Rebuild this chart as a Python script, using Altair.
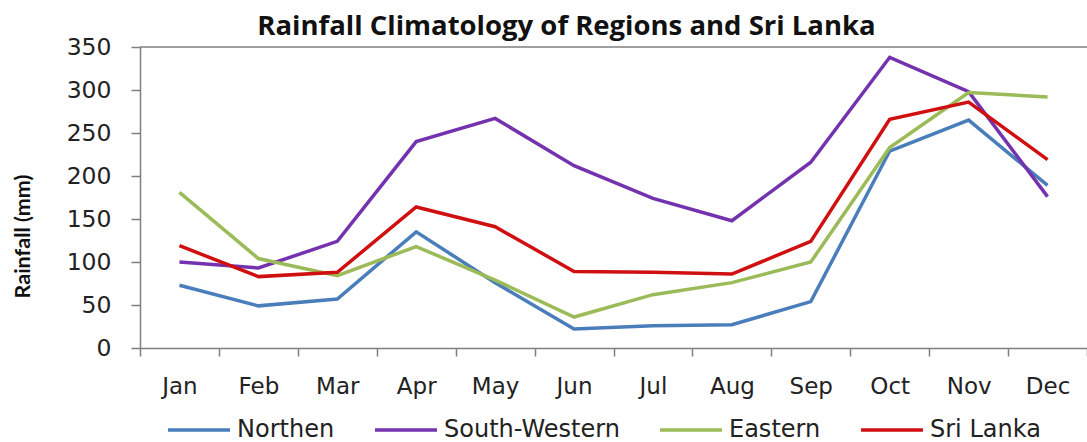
import altair as alt
import pandas as pd

months = ["Jan", "Feb", "Mar", "Apr", "May", "Jun",
          "Jul", "Aug", "Sep", "Oct", "Nov", "Dec"]
regions = ["Northen", "South-Western", "Eastern", "Sri Lanka"]
colors = ["#4A7EBB", "#7432AE", "#9BBB59", "#D01010"]

northen = [73, 49, 57, 135, 76, 22, 26, 27, 54, 229, 265, 189]
south_western = [100, 93, 124, 240, 267, 212, 174, 148, 216, 338, 298, 176]
eastern = [181, 104, 84, 118, 79, 36, 62, 76, 100, 233, 297, 292]
sri_lanka = [119, 83, 88, 164, 141, 89, 88, 86, 124, 266, 286, 219]

series = dict(zip(regions, [northen, south_western, eastern, sri_lanka]))
rows = []
for name, values in series.items():
    for m, v in zip(months, values):
        rows.append({"Month": m, "Region": name, "Rainfall": v})
df = pd.DataFrame(rows)

axis_color = "#7F7F7F"
font = "DejaVu Sans"

lines = alt.Chart(df).mark_line(strokeWidth=3.5).encode(
    x=alt.X("Month:N", sort=months,
            scale=alt.Scale(paddingInner=0, paddingOuter=0),
            axis=alt.Axis(title=None, labelAngle=0, tickBand="extent",
                          tickSize=8, labelPadding=19, labelFontSize=23,
                          labelFont=font, labelColor="#222222",
                          domainColor=axis_color, tickColor=axis_color,
                          domainWidth=1.5, tickWidth=1.5, grid=False)),
    y=alt.Y("Rainfall:Q",
            scale=alt.Scale(domain=[0, 350], nice=False),
            axis=alt.Axis(title="Rainfall (mm)", values=list(range(0, 351, 50)),
                          tickSize=9, labelPadding=20, labelFontSize=23.5,
                          labelFont=font, labelColor="#222222",
                          domainColor=axis_color, tickColor=axis_color,
                          domainWidth=1.5, tickWidth=1.5, grid=False,
                          titleFont="Lato", titleFontSize=21.5,
                          titleFontWeight="bold", titleColor="#111111",
                          titleX=-106, titleY=189, titleAngle=-90,
                          titleAlign="center", titleBaseline="bottom")),
    color=alt.Color("Region:N", sort=regions,
                    scale=alt.Scale(domain=regions, range=colors),
                    legend=alt.Legend(title=None, orient="none",
                                      direction="horizontal", columns=4,
                                      legendX=26, legendY=350,
                                      symbolType="stroke", symbolSize=3844,
                                      symbolStrokeWidth=3.5,
                                      labelFontSize=24, labelFont=font,
                                      labelColor="#222222", labelOffset=5,
                                      columnPadding=33, labelLimit=400)),
)

top_rule = alt.Chart(pd.DataFrame({"y": [350]})).mark_rule(
    color=axis_color, strokeWidth=1.5
).encode(y="y:Q")

chart = alt.layer(lines, top_rule).properties(
    width=947,
    height=301,
    autosize="none",
    padding={"left": 140, "top": 47, "right": 0, "bottom": 94},
    title=alt.TitleParams("Rainfall Climatology of Regions and Sri Lanka",
                          font="Open Sans", fontSize=27.5, fontWeight="bold",
                          color="#111111", anchor="middle", dx=-47, dy=38,
                          baseline="alphabetic", offset=11),
).configure_view(stroke=None)

chart.save("out.html", embed_options={"renderer": "svg", "actions": False})
